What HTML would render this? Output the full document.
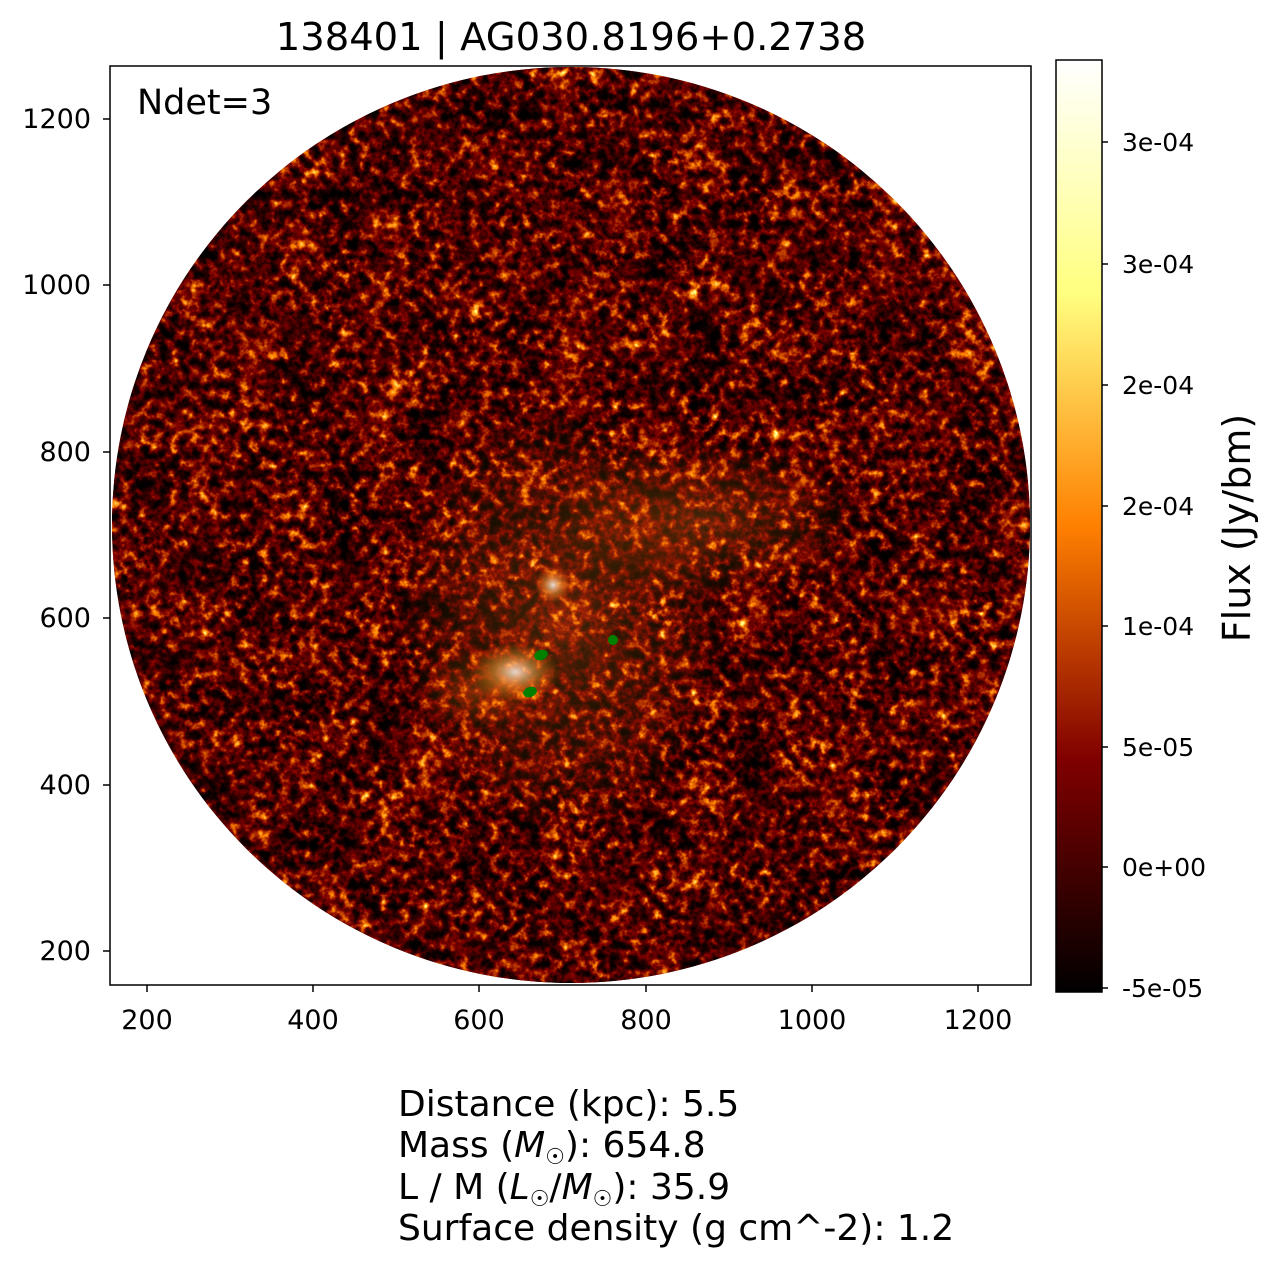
<!DOCTYPE html>
<html><head><style>
body{margin:0;background:#fff;width:1274px;height:1267px;overflow:hidden;font-family:"Liberation Sans","DejaVu Sans",sans-serif;}
</style></head><body>
<svg width="1274" height="1267" xmlns="http://www.w3.org/2000/svg" font-family="DejaVu Sans, Liberation Sans, sans-serif">
<defs>
<filter id="noise" x="0" y="0" width="100%" height="100%" color-interpolation-filters="sRGB">
<feTurbulence type="fractalNoise" baseFrequency="0.1" numOctaves="3" seed="7" result="t"/>
<feTurbulence type="fractalNoise" baseFrequency="0.022" numOctaves="2" seed="3" result="c"/>
<feComposite in="t" in2="c" operator="arithmetic" k1="0" k2="0.8" k3="0.3" k4="-0.05" result="m"/>
<feComponentTransfer in="m">
<feFuncR type="table" tableValues="0 0 0.01 0.08 0.22 0.38 0.6 0.85 1"/>
</feComponentTransfer>
<feColorMatrix type="matrix" values="2 0 0 0 0  2 0 0 0 -0.5  2 0 0 0 -1  0 0 0 0 1"/>
</filter>
<clipPath id="circ"><ellipse cx="571" cy="525" rx="459" ry="458"/></clipPath>
<radialGradient id="blob"><stop offset="0" stop-color="#fff" stop-opacity="0.85"/><stop offset="0.5" stop-color="#ffb040" stop-opacity="0.45"/><stop offset="1" stop-color="#ff8000" stop-opacity="0"/></radialGradient>
<radialGradient id="glow"><stop offset="0" stop-color="#ff9020" stop-opacity="0.25"/><stop offset="1" stop-color="#ff8000" stop-opacity="0"/></radialGradient>
<linearGradient id="cb" x1="0" y1="1" x2="0" y2="0">
<stop offset="0" stop-color="#000"/><stop offset="0.25" stop-color="#800000"/><stop offset="0.5" stop-color="#ff8000"/><stop offset="0.75" stop-color="#ffff80"/><stop offset="1" stop-color="#fff"/>
</linearGradient>
</defs>
<text x="571" y="50" font-size="38.5" text-anchor="middle">138401 | AG030.8196+0.2738</text>
<g clip-path="url(#circ)">
<rect x="110" y="66" width="921" height="919" fill="#3a0f00"/>
<rect x="110" y="66" width="921" height="919" filter="url(#noise)"/>
<ellipse cx="560" cy="620" rx="170" ry="220" fill="url(#glow)"/>
<ellipse cx="700" cy="520" rx="160" ry="80" fill="url(#glow)"/>
<ellipse cx="515" cy="672" rx="45" ry="30" fill="url(#blob)"/>
<ellipse cx="553" cy="585" rx="18" ry="18" fill="url(#blob)"/>
<ellipse cx="480" cy="690" rx="60" ry="40" fill="url(#glow)"/>
</g>
<ellipse cx="541" cy="655" rx="7" ry="5" fill="#008000" transform="rotate(-20 541 655)"/>
<ellipse cx="613" cy="640" rx="5" ry="5" fill="#008000"/>
<ellipse cx="530" cy="692" rx="7" ry="5" fill="#008000" transform="rotate(-20 530 692)"/>
<rect x="110" y="66" width="921" height="919" fill="none" stroke="#000" stroke-width="1.5"/>
<text x="137" y="114" font-size="35">Ndet=3</text>
<g font-size="27" text-anchor="middle">
<g stroke="#000" stroke-width="1.5">
<line x1="147" y1="985" x2="147" y2="992"/><line x1="313" y1="985" x2="313" y2="992"/><line x1="479" y1="985" x2="479" y2="992"/><line x1="646" y1="985" x2="646" y2="992"/><line x1="812" y1="985" x2="812" y2="992"/><line x1="978" y1="985" x2="978" y2="992"/>
<line x1="103" y1="951" x2="110" y2="951"/><line x1="103" y1="785" x2="110" y2="785"/><line x1="103" y1="618" x2="110" y2="618"/><line x1="103" y1="452" x2="110" y2="452"/><line x1="103" y1="285" x2="110" y2="285"/><line x1="103" y1="119" x2="110" y2="119"/>
</g>
<text x="147" y="1029">200</text><text x="313" y="1029">400</text><text x="479" y="1029">600</text><text x="646" y="1029">800</text><text x="812" y="1029">1000</text><text x="978" y="1029">1200</text>
</g>
<g font-size="27" text-anchor="end">
<text x="91" y="960">200</text><text x="91" y="794">400</text><text x="91" y="627">600</text><text x="91" y="461">800</text><text x="91" y="294">1000</text><text x="91" y="128">1200</text>
</g>
<rect x="1056" y="60" width="46" height="932" fill="url(#cb)" stroke="#000" stroke-width="1.5"/>
<g stroke="#000" stroke-width="1.5">
<line x1="1102" y1="142" x2="1108" y2="142"/><line x1="1102" y1="264" x2="1108" y2="264"/><line x1="1102" y1="385" x2="1108" y2="385"/><line x1="1102" y1="506" x2="1108" y2="506"/><line x1="1102" y1="626" x2="1108" y2="626"/><line x1="1102" y1="747" x2="1108" y2="747"/><line x1="1102" y1="867" x2="1108" y2="867"/><line x1="1102" y1="988" x2="1108" y2="988"/>
</g>
<g font-size="25">
<text x="1122" y="151">3e-04</text><text x="1122" y="273">3e-04</text><text x="1122" y="394">2e-04</text><text x="1122" y="515">2e-04</text><text x="1122" y="635">1e-04</text><text x="1122" y="756">5e-05</text><text x="1122" y="876">0e+00</text><text x="1122" y="997">-5e-05</text>
</g>
<text x="1250" y="528" font-size="38" text-anchor="middle" transform="rotate(-90 1250 528)">Flux (Jy/bm)</text>
<g font-size="36">
<text x="398" y="1116">Distance (kpc): 5.5</text>
<text x="398" y="1157">Mass (<tspan font-style="italic">M</tspan><tspan font-size="22" dy="7">☉</tspan><tspan dy="-7">): 654.8</tspan></text>
<text x="398" y="1199">L / M (<tspan font-style="italic">L</tspan><tspan font-size="22" dy="7">☉</tspan><tspan dy="-7">/</tspan><tspan font-style="italic">M</tspan><tspan font-size="22" dy="7">☉</tspan><tspan dy="-7">): 35.9</tspan></text>
<text x="398" y="1240">Surface density (g cm^-2): 1.2</text>
</g>
</svg>
</body></html>
